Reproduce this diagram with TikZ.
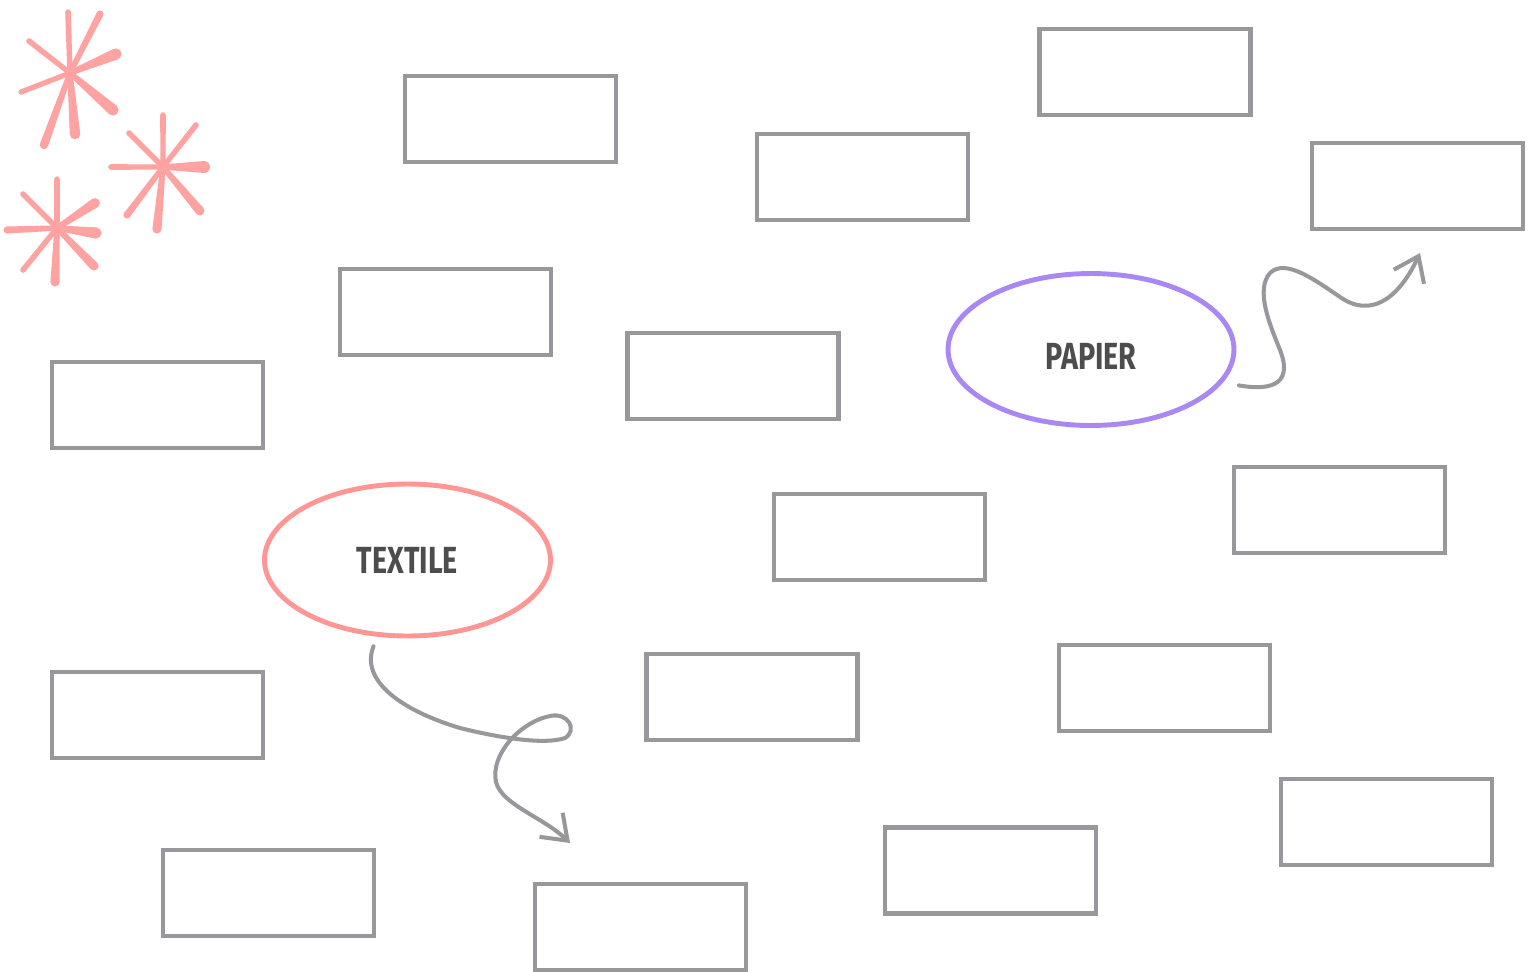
\documentclass[tikz,border=0pt]{standalone}
\usepackage{fontspec}
\usepackage{xcolor}
\newfontfamily\tagfont{Fira Sans}[FakeStretch=0.76]
\usetikzlibrary{calc,shapes.geometric,arrows.meta}
\definecolor{boxgray}{RGB}{152,152,156}
\definecolor{labelgray}{RGB}{77,77,77}
\definecolor{papierpurple}{RGB}{170,136,242}
\definecolor{textilepink}{RGB}{255,150,150}
\definecolor{sparkpink}{RGB}{255,162,162}
\newcommand{\sparkray}[3]{
    \coordinate (rayc) at #1;
    \coordinate (rayt) at #2;
    \fill[sparkpink] ($(rayc)!1.5pt!90:(rayt)$) -- ($(rayt)!#3!-90:(rayc)$) --
        ($(rayt)!#3!90:(rayc)$) -- ($(rayc)!1.5pt!-90:(rayt)$) -- cycle;
    \fill[sparkpink] (rayt) circle (#3);
}
\tikzset{
    slot/.style={draw=boxgray, line width=2.4pt, minimum width=4.22cm,
        minimum height=1.72cm, inner sep=0pt},
    bubble/.style={ellipse, line width=2.8pt, minimum width=5.72cm,
        minimum height=3.04cm, inner sep=0pt, text=labelgray,
        font=\tagfont\bfseries\fontsize{21.5}{24}\selectfont},
    squiggle/.style={draw=boxgray, line width=2.3pt, line cap=round,
        -{Straight Barb[length=13pt,width=19pt,line width=2.3pt]}}
}
\begin{document}
\begin{tikzpicture}[x=0.02cm,y=-0.02cm]

    % Page area, in pixels of the sketch
    \useasboundingbox (0,0) rectangle (1538,971);
    \clip (0,0) rectangle (1538,971);

    % Empty boxes to be filled in
    \foreach \name/\pos in {b1/{(510.5,119)}, b2/{(1145,72)}, b3/{(862.5,177)},
            b4/{(1417.5,186)}, b5/{(445.5,312)}, b6/{(733,376)},
            b7/{(157.5,405)}, b8/{(1339.5,510)}, b9/{(879.5,537)},
            b10/{(157.5,715)}, b11/{(752,697)}, b12/{(1164.5,688)},
            b13/{(1386.5,822)}, b14/{(990.5,870.5)}, b15/{(268.5,893)},
            b16/{(640.5,927)}}{
        \node[slot] (\name) at \pos {};
    }

    % The two topics
    \node[bubble, draw=papierpurple, text height=0.8cm, text depth=0pt]
        (papier) at (1091,349.5) {PAPIER};
    \node[bubble, draw=textilepink] (textile) at (407.5,560) {TEXTILE};

    % Loose ends of the squiggly arrows
    \coordinate (papierstart) at ($(papier.-14)+(16,3)$);
    \coordinate (papierend) at (1420,253);
    \coordinate (textilestart) at ($(textile.-114)+(0,10)$);
    \coordinate (textileend) at (570,843);

    % Squiggly arrows out of the topics
    \draw[squiggle] (papierstart)
        .. controls (1265,390) and (1295,388) .. (1280,350)
        .. controls (1270,325) and (1255,290) .. (1270,273)
        .. controls (1285,258) and (1315,280) .. (1340,297)
        .. controls (1370,318) and (1398,300) .. (papierend);
    \draw[squiggle] (textilestart)
        .. controls (360,680) and (400,710) .. (460,728)
        .. controls (500,738) and (545,745) .. (565,738)
        .. controls (578,730) and (568,712) .. (550,716)
        .. controls (520,722) and (490,755) .. (496,782)
        .. controls (502,805) and (543,817) .. (textileend);

    % Three sparkles in the corner
    \foreach \x/\y/\w in {68/12/1.6pt, 100/14/2pt, 116/54/3.2pt, 113/110/3.2pt,
            75/134/3pt, 44/145/2.4pt, 21/92/1.5pt, 29/41/1.6pt}{
        \sparkray{(70,73)}{(\x,\y)}{\w}
    }
    \foreach \x/\y/\w in {163/115/1.6pt, 196/125/1.6pt, 204/167/3.4pt, 200/211/2.6pt,
            157/229/2.6pt, 127/215/2pt, 111/167/1.6pt, 129/133/1.6pt}{
        \sparkray{(163,167)}{(\x,\y)}{\w}
    }
    \foreach \x/\y/\w in {57/179/1.5pt, 95/203/2.8pt, 96/233/3.2pt, 94/266/2.6pt,
            55/282/2.6pt, 23/270/1.6pt, 7/230/2pt, 23/194/1.6pt}{
        \sparkray{(57,228)}{(\x,\y)}{\w}
    }

\end{tikzpicture}
\end{document}
